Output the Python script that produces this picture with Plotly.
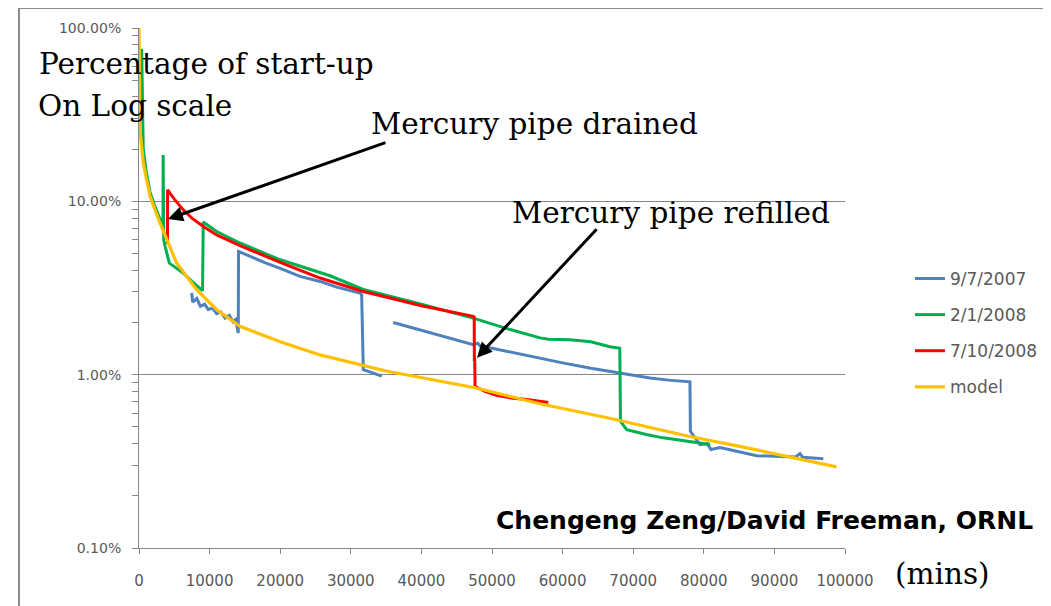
import plotly.graph_objects as go
import math

# ---------------- data (minutes, percent of start-up) ----------------
model_x = [0, 30, 140, 610, 1560, 2970, 3920, 5340, 8170, 11000, 14300, 20000,
           25640, 35000, 47600, 56800, 67000, 78000, 85100, 98800]
model_y = [100, 50, 25.8, 16.6, 10.7, 7.5, 6.0, 4.4, 3.09, 2.37, 1.90, 1.55,
           1.30, 1.05, 0.84, 0.68, 0.557, 0.44, 0.386, 0.294]

blue_x = [7460, 7600, 8200, 8700, 9300, 9800, 10400, 11000, 11600, 12200, 12800, 13300, 13700, 14000, 14060,
          14100, 16000, 18000, 20000, 22800, 25640, 28000, 31300, 31540, 31770, 33000, 34380,
          None,
          36020, 40000, 47350, 48000, 48300, 50000, 55380, 60000, 64000, 68130, 72380, 75000, 77800,
          78040, 78100, 79460, 80500, 81000, 82290, 85000, 87500, 90000, 93000, 93620, 94000, 96930]
blue_y = [2.96, 2.62, 2.75, 2.48, 2.55, 2.38, 2.42, 2.25, 2.30, 2.12, 2.20, 2.02, 2.08, 1.80, 1.74,
          5.14, 4.75, 4.40, 4.10, 3.69, 3.45, 3.20, 2.96, 2.89, 1.07, 1.03, 0.98,
          None,
          2.0, 1.80, 1.49, 1.52, 1.46, 1.42, 1.275, 1.17, 1.09, 1.02, 0.957, 0.93, 0.915,
          0.91, 0.471, 0.395, 0.40, 0.37, 0.38, 0.36, 0.341, 0.338, 0.335, 0.35, 0.334, 0.327]

green_x = [380, 600, 1000, 1560, 2200, 2970, 3400, 3420, 3500, 3700, 4300, 5000, 6280, 7500,
           8880, 9000, 9100, 11000, 14300, 20000, 27050, 31770, 40000, 47350, 52000, 56800,
           58000, 61050, 64000, 66700, 68100, 68200, 69080, 72000, 74260, 78000, 80900]
green_y = [76, 20, 15, 11.3, 9.5, 7.9, 6.8, 18.5, 6.0, 5.5, 4.4, 4.2, 3.85, 3.45,
           3.09, 3.05, 7.6, 6.7, 5.75, 4.6, 3.72, 3.1, 2.55, 2.12, 1.85, 1.63,
           1.60, 1.59, 1.55, 1.45, 1.42, 0.538, 0.482, 0.45, 0.432, 0.41, 0.395]

red_x = [4030, 4050, 5000, 6280, 7500, 9110, 11000, 14300, 20000, 25640, 31770, 40000,
         47350, 47480, 47500, 47550, 47600, 49000, 50600, 53000, 55000, 57970]
red_y = [5.7, 11.65, 10.3, 8.93, 8.0, 7.16, 6.4, 5.55, 4.45, 3.61, 3.02, 2.50,
         2.17, 2.15, 1.19, 1.25, 0.857, 0.80, 0.76, 0.73, 0.72, 0.69]

series_names = ["9/7/2007", "2/1/2008", "7/10/2008", "model"]
series_colors = ["#4F81BD", "#00B050", "#FF0000", "#FFC000"]

x_ticks = [0, 10000, 20000, 30000, 40000, 50000, 60000, 70000, 80000, 90000, 100000]
y_ticks = [0.001, 0.01, 0.1, 1.0]
y_tick_text = ["0.10%", "1.00%", "10.00%", "100.00%"]


def frac(vals):
    return [None if v is None else v / 100.0 for v in vals]


fig = go.Figure()
all_series = [(blue_x, blue_y), (green_x, green_y), (red_x, red_y), (model_x, model_y)]
for i, ((xs, ys), name, col) in enumerate(zip(all_series, series_names, series_colors)):
    fig.add_trace(go.Scatter(
        x=xs, y=frac(ys), mode="lines", name=name, legendgroup=name,
        line=dict(color=col, width=3.2 if name == "model" else 3),
        connectgaps=False,
    ))

minor_vals = []
for dec in [0.001, 0.01, 0.1]:
    for m in range(2, 10):
        minor_vals.append(dec * m)

grey_txt = "#595959"
axis_col = "#868686"

fig.update_layout(
    width=1043, height=598,
    margin=dict(l=131, r=206, t=20, b=58, autoexpand=False),
    paper_bgcolor="white", plot_bgcolor="white",
    showlegend=True,
    legend=dict(x=1.092, y=0.552, xanchor="left", yanchor="top",
                font=dict(family="DejaVu Sans", size=17, color=grey_txt),
                tracegroupgap=11, bgcolor="rgba(0,0,0,0)"),
    xaxis=dict(range=[0, 100000], tickmode="array", tickvals=x_ticks,
               ticktext=[str(v) for v in x_ticks],
               showgrid=False, zeroline=False, showline=True, linecolor=axis_col, linewidth=1,
               ticks="outside", ticklen=5, tickcolor=axis_col,
               ticklabelstandoff=14,
               tickfont=dict(family="DejaVu Sans", size=15, color=grey_txt)),
    yaxis=dict(type="log", range=[-3, 0], tickmode="array", tickvals=y_ticks, ticktext=y_tick_text,
               showgrid=True, gridcolor=axis_col, gridwidth=1, zeroline=False,
               showline=True, linecolor=axis_col, linewidth=1,
               ticks="outside", ticklen=6, tickcolor=axis_col,
               ticklabelstandoff=8,
               minor=dict(tickmode="array", tickvals=minor_vals, ticks="outside", ticklen=6,
                          tickcolor=axis_col, showgrid=False),
               tickfont=dict(family="DejaVu Sans", size=14, color=grey_txt)),
)

serif = dict(family="DejaVu Serif", size=29.5, color="black")
texts = [
    ("Percentage of start-up", 0.0956, 0.9308, serif),
    ("On Log scale", -0.005, 0.85, serif),
    ("Mercury pipe drained", 0.5609, 0.8154, serif),
    ("Mercury pipe refilled", 0.7542, 0.6442, serif),
    ("(mins)", 1.1388, -0.05, serif),
    ("<b>Chengeng Zeng/David Freeman, ORNL</b>", 0.886, 0.0538,
     dict(family="DejaVu Sans", size=25, color="black")),
]
for t, xp, yp, f in texts:
    fig.add_annotation(text=t, x=xp, y=yp, xref="paper", yref="paper",
                       xanchor="center", yanchor="middle", showarrow=False, font=f)

# arrows pointing at the drain / refill events
fig.add_annotation(x=4100, y=math.log10(0.079), xref="x", yref="y", text="",
                   showarrow=True, arrowhead=2, arrowsize=1, arrowwidth=3, arrowcolor="black",
                   ax=219, ay=-77)
fig.add_annotation(x=47875, y=math.log10(0.01253), xref="x", yref="y", text="",
                   showarrow=True, arrowhead=2, arrowsize=1, arrowwidth=3, arrowcolor="black",
                   ax=121, ay=-130)

# outer chart frame
fig.add_shape(type="rect", xref="paper", yref="paper", x0=-0.17, x1=1.6, y0=-0.5, y1=1.0385,
              line=dict(color="#8c8c8c", width=2), layer="below")

fig.write_html("out.html")
